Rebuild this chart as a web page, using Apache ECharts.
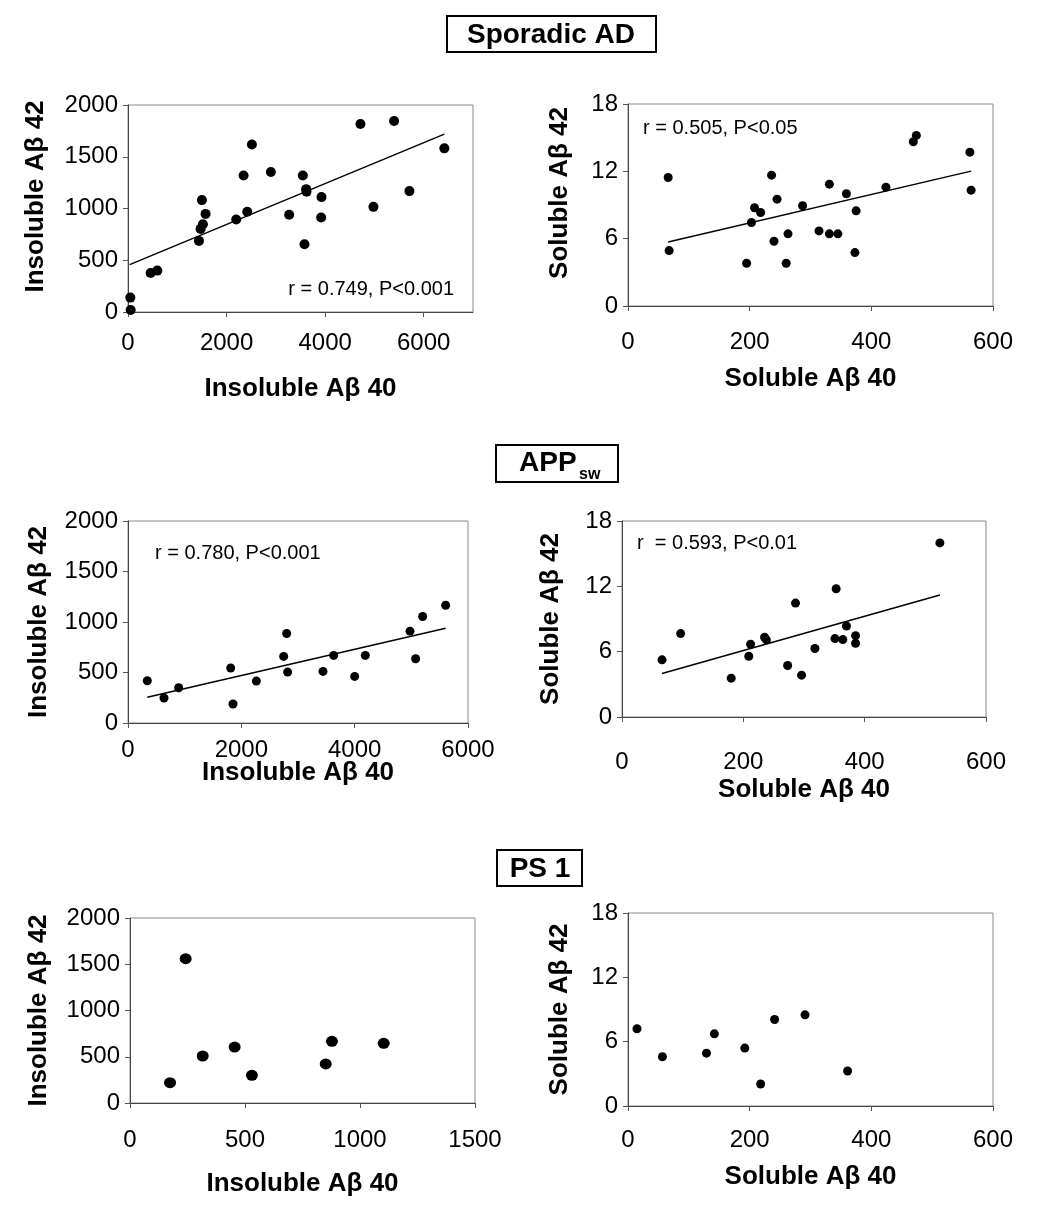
<!DOCTYPE html>
<html>
<head>
<meta charset="utf-8">
<script src="https://cdn.jsdelivr.net/npm/echarts@6/dist/echarts.min.js"></script>
<style>
  html, body { margin: 0; padding: 0; background: #fff; }
  #chart { width: 1050px; height: 1224px; }
</style>
</head>
<body>
<div id="chart"></div>
<script>
// values, [x, y]
var sporadicInsol = [[47,139],[54,19],[459,377],[595,400],[1439,687],[1473,803],[1520,848],[1500,1081],
  [1574,948],[2196,894],[2345,1319],[2419,968],[2514,1619],[2899,1352],[3270,939],[3547,1319],[3581,655],
  [3615,1187],[3622,1161],[3926,1110],[3919,913],[4716,1816],[4980,1016],[5399,1845],[5710,1168],[6419,1581]];
var sporadicInsolFit = [[34,458],[6419,1719]];

var sporadicSol = [[66,11.45],[67.6,4.94],[195,3.81],[203,7.44],[208,8.75],[218,8.33],[236,11.66],[240,5.77],
  [245,9.52],[260,3.81],[263,6.43],[287,8.93],[314,6.69],[331,10.86],[331,6.43],[345,6.43],[359,10.0],
  [373,4.76],[375,8.48],[424,10.59],[469,14.64],[474,15.2],[562,13.71],[564,10.32]];
var sporadicSolFit = [[66,5.71],[564,12.02]];

var appInsol = [[341,418],[635,247],[894,349],[1812,544],[1853,188],[2265,415],[2747,659],[2800,886],
  [2817,504],[3441,511],[3629,669],[4000,461],[4188,669],[4976,909],[5076,636],[5200,1054],[5606,1166]];
var appInsolFit = [[341,254],[5606,939]];

var appSol = [[66,5.25],[96.7,7.66],[180,3.57],[209,5.58],[212,6.68],[235,7.32],[238,7.08],[273,4.73],
  [286,10.46],[296,3.84],[318,6.29],[351,7.2],[353,11.78],[364,7.11],[370,8.36],[385,7.47],[385,6.77],[524,15.99]];
var appSolFit = [[66,4.0],[524,11.2]];

var psInsol = [[174,220],[242,1560],[316,508],[455,605],[530,299],[851,422],[878,667],[1103,645]];
var psSol = [[14.8,7.2],[56.6,4.59],[129,4.93],[142,6.73],[192,5.4],[218,2.05],[241,8.07],[291,8.5],[361,3.26]];

var sectionTitles = ['Sporadic AD', 'APP', 'PS 1'];
var statTexts = ['r = 0.749, P<0.001', 'r = 0.505, P<0.05', 'r = 0.780, P<0.001', 'r  = 0.593, P<0.01'];

var insolY = { min: 0, max: 2000, interval: 500 };
var solY = { min: 0, max: 18, interval: 6 };

var FONT = '"Liberation Sans", Arial, sans-serif';

// grid boxes [left, top, width, height]
var boxes = [
  [128, 105, 345, 207], [628, 104, 365, 202],
  [128, 521, 340, 202], [622, 521, 364, 196],
  [130, 918, 345, 185], [628, 913, 365, 193]
];

var panels = [
  { x: { min: 0, max: 7000, interval: 2000 }, y: insolY, xName: 'Insoluble Aβ 40', yName: 'Insoluble Aβ 42', pts: sporadicInsol, fit: sporadicInsolFit, size: 10, xMargin: 19, xGap: 64, yGap: 79, yShift: 24 },
  { x: { min: 0, max: 600, interval: 200 }, y: solY, xName: 'Soluble Aβ 40', yName: 'Soluble Aβ 42', pts: sporadicSol, fit: sporadicSolFit, size: 9, xMargin: 24, xGap: 60, yGap: 55, yShift: 24 },
  { x: { min: 0, max: 6000, interval: 2000 }, y: insolY, xName: 'Insoluble Aβ 40', yName: 'Insoluble Aβ 42', pts: appInsol, fit: appInsolFit, size: 9, xMargin: 15, xGap: 37, yGap: 76, yShift: 0 },
  { x: { min: 0, max: 600, interval: 200 }, y: solY, xName: 'Soluble Aβ 40', yName: 'Soluble Aβ 42', pts: appSol, fit: appSolFit, size: 9, xMargin: 33, xGap: 60, yGap: 58, yShift: 0 },
  { x: { min: 0, max: 1500, interval: 500 }, y: insolY, xName: 'Insoluble Aβ 40', yName: 'Insoluble Aβ 42', pts: psInsol, fit: null, size: [12, 11], xMargin: 25, xGap: 68, yGap: 78, yShift: 0 },
  { x: { min: 0, max: 600, interval: 200 }, y: solY, xName: 'Soluble Aβ 40', yName: 'Soluble Aβ 42', pts: psSol, fit: null, size: 9, xMargin: 22, xGap: 58, yGap: 55, yShift: 0 }
];

var grid = [], xAxis = [], yAxis = [], series = [];

function plain(v) { return String(v); }

panels.forEach(function (p, i) {
  var b = boxes[i];
  grid.push({
    left: b[0], top: b[1], width: b[2], height: b[3],
    show: true, borderColor: '#8a8a8a', borderWidth: 1, backgroundColor: '#fff'
  });
  xAxis.push({
    gridIndex: i, type: 'value', min: p.x.min, max: p.x.max, interval: p.x.interval,
    name: p.xName, nameLocation: 'middle', nameGap: p.xGap, nameMoveOverlap: false,
    nameTextStyle: { fontFamily: FONT, fontSize: 26, fontWeight: 'bold', color: '#000' },
    axisLine: { show: true, onZero: false, lineStyle: { color: '#444', width: 1 } },
    axisTick: { show: true, length: 5, lineStyle: { color: '#555' } },
    axisLabel: { fontFamily: FONT, fontSize: 24, color: '#000', margin: p.xMargin, formatter: plain,
      showMaxLabel: p.x.max % p.x.interval === 0 },
    splitLine: { show: false }
  });
  yAxis.push({
    gridIndex: i, type: 'value', min: p.y.min, max: p.y.max, interval: p.y.interval,
    name: p.yName, nameLocation: 'middle', nameGap: p.yGap, nameMoveOverlap: false,
    nameTextStyle: { fontFamily: FONT, fontSize: 26, fontWeight: 'bold', color: '#000',
      padding: [0, 0, 0, p.yShift] },
    axisLine: { show: true, onZero: false, lineStyle: { color: '#444', width: 1 } },
    axisTick: { show: true, length: 5, lineStyle: { color: '#555' } },
    axisLabel: { fontFamily: FONT, fontSize: 24, color: '#000', margin: 10, formatter: plain },
    splitLine: { show: false }
  });
  if (p.fit) {
    series.push({
      type: 'line', xAxisIndex: i, yAxisIndex: i, data: p.fit,
      symbol: 'none', lineStyle: { color: '#000', width: 1.5 }, z: 2, silent: true
    });
  }
  series.push({
    type: 'scatter', xAxisIndex: i, yAxisIndex: i, data: p.pts,
    symbol: 'circle', symbolSize: p.size, itemStyle: { color: '#000', opacity: 1 }, z: 3
  });
});

function titleBox(x, y, w, h) {
  return { type: 'rect', shape: { x: x, y: y, width: w, height: h }, style: { fill: '#fff', stroke: '#000', lineWidth: 2 } };
}
var boldTitle = 'bold 28px ' + FONT;
var statFont = '20px ' + FONT;

var graphic = [
  titleBox(447, 16, 209, 36),
  { type: 'text', x: 551, y: 35, style: { text: sectionTitles[0], font: boldTitle, fill: '#000', align: 'center', verticalAlign: 'middle' } },
  titleBox(496, 445, 122, 37),
  { type: 'text', x: 519, y: 463, style: { text: sectionTitles[1], font: boldTitle, fill: '#000', align: 'left', verticalAlign: 'middle' } },
  { type: 'text', x: 579, y: 475, style: { text: 'sw', font: 'bold 16px ' + FONT, fill: '#000', align: 'left', verticalAlign: 'middle' } },
  titleBox(497, 850, 85, 36),
  { type: 'text', x: 540, y: 869, style: { text: sectionTitles[2], font: boldTitle, fill: '#000', align: 'center', verticalAlign: 'middle' } },
  { type: 'text', x: 454, y: 289, style: { text: statTexts[0], font: statFont, fill: '#000', align: 'right', verticalAlign: 'middle' } },
  { type: 'text', x: 643, y: 128, style: { text: statTexts[1], font: statFont, fill: '#000', align: 'left', verticalAlign: 'middle' } },
  { type: 'text', x: 155, y: 553, style: { text: statTexts[2], font: statFont, fill: '#000', align: 'left', verticalAlign: 'middle' } },
  { type: 'text', x: 637, y: 543, style: { text: statTexts[3], font: statFont, fill: '#000', align: 'left', verticalAlign: 'middle' } }
];

var chart = echarts.init(document.getElementById('chart'), null, { renderer: 'canvas' });
chart.setOption({
  animation: false,
  backgroundColor: '#fff',
  grid: grid,
  xAxis: xAxis,
  yAxis: yAxis,
  series: series,
  graphic: graphic
});
</script>
</body>
</html>
